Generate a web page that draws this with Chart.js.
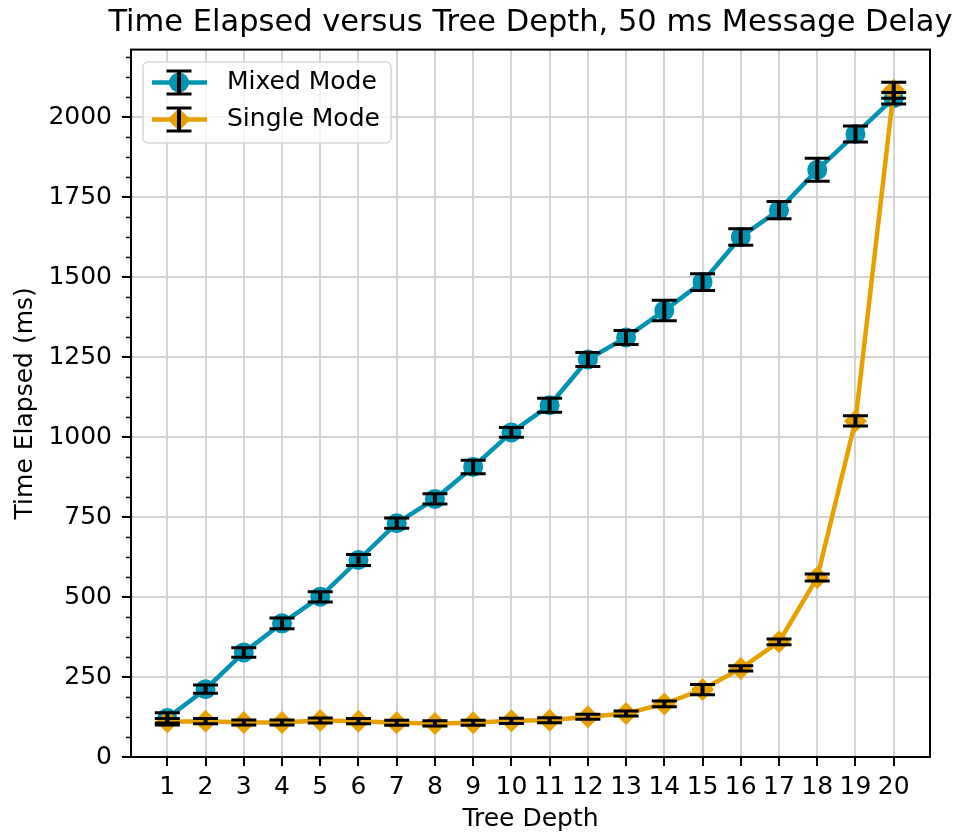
<!DOCTYPE html>
<html>
<head>
<meta charset="utf-8">
<script src="https://cdn.jsdelivr.net/npm/chart.js@4.4.1/dist/chart.umd.min.js"></script>
<style>
  html, body { margin: 0; padding: 0; background: #fff; }
  #wrap { width: 961px; height: 840px; }
</style>
</head>
<body>
<div id="wrap"><canvas id="chart" width="961" height="840"></canvas></div>
<script>
// depths on the x axis
var depths = [1, 2, 3, 4, 5, 6, 7, 8, 9, 10, 11, 12, 13, 14, 15, 16, 17, 18, 19, 20];

// Mixed Mode: mean time (ms) and error (+/-)
var mixedTime = [122, 212, 327, 418, 501, 616, 731, 807, 907, 1015, 1100, 1243, 1312, 1396, 1485, 1626, 1710, 1836, 1948, 2060];
var mixedErr = [16, 13, 15, 17, 16, 17, 16, 16, 21, 15, 22, 22, 22, 32, 26, 26, 27, 36, 25, 18];

// Single Mode
var singleTime = [110, 112, 108, 108, 114, 112, 107, 105, 107, 113, 115, 126, 136, 166, 211, 277, 360, 561, 1051, 2085];
var singleErr = [10, 8, 8, 8, 8, 8, 8, 8, 8, 8, 8, 8, 8, 9, 16, 8, 9, 11, 16, 25];

var yTicks = [0, 250, 500, 750, 1000, 1250, 1500, 1750, 2000];
var yMinorStep = 62.5;

var blue = "#0093b2";
var orange = "#e6a100";
var font = "DejaVu Sans";

function points(ys) {
    return depths.map(function (d, i) { return { x: d, y: ys[i] }; });
}

// black error bars with caps, drawn over the markers
var errorBars = {
    id: "errorBars",
    afterDatasetsDraw: function (chart) {
        var ctx = chart.ctx, xs = chart.scales.x, ys = chart.scales.y;
        ctx.save();
        ctx.strokeStyle = "#000";
        chart.data.datasets.forEach(function (ds) {
            ds.data.forEach(function (p, i) {
                var e = ds.errors[i];
                var x = xs.getPixelForValue(p.x);
                var top = ys.getPixelForValue(p.y + e);
                var bot = ys.getPixelForValue(p.y - e);
                ctx.lineWidth = 4;
                ctx.beginPath();
                ctx.moveTo(x, top);
                ctx.lineTo(x, bot);
                ctx.stroke();
                ctx.lineWidth = 3;
                ctx.beginPath();
                ctx.moveTo(x - 12.5, top); ctx.lineTo(x + 12.5, top);
                ctx.moveTo(x - 12.5, bot); ctx.lineTo(x + 12.5, bot);
                ctx.stroke();
            });
        });
        ctx.restore();
    }
};

// title centred over the plot but wider than it
var titleSpan = {
    id: "titleSpan",
    afterLayout: function (chart) {
        var t = chart.titleBlock, a = chart.chartArea;
        var mid = (a.left + a.right) / 2, half = 450;
        t.left = mid - half;
        t.right = mid + half;
        t.width = 2 * half;
    }
};

// spines, minor ticks and the legend box (matplotlib look)
var frame = {
    id: "frame",
    afterDraw: function (chart) {
        var ctx = chart.ctx, a = chart.chartArea, ys = chart.scales.y;
        ctx.save();
        ctx.strokeStyle = "#000";
        ctx.lineWidth = 2;
        ctx.strokeRect(a.left, a.top, a.right - a.left, a.bottom - a.top);

        // minor ticks on the y axis
        ctx.lineWidth = 1.5;
        ctx.beginPath();
        for (var v = 0; v <= ys.max; v += yMinorStep) {
            if (v % 250 === 0) continue;
            var py = Math.round(ys.getPixelForValue(v)) + 0.5;
            ctx.moveTo(a.left, py);
            ctx.lineTo(a.left - 5, py);
        }
        ctx.stroke();

        // legend
        var bx = 143, by = 62, bw = 248, bh = 81, r = 5;
        ctx.beginPath();
        ctx.moveTo(bx + r, by);
        ctx.arcTo(bx + bw, by, bx + bw, by + bh, r);
        ctx.arcTo(bx + bw, by + bh, bx, by + bh, r);
        ctx.arcTo(bx, by + bh, bx, by, r);
        ctx.arcTo(bx, by, bx + bw, by, r);
        ctx.closePath();
        ctx.fillStyle = "rgba(255,255,255,0.8)";
        ctx.fill();
        ctx.strokeStyle = "#d6d6d6";
        ctx.lineWidth = 1.5;
        ctx.stroke();

        var rows = [82.5, 119.5];
        chart.data.datasets.forEach(function (ds, k) {
            var y = rows[k], cx = 179;
            ctx.strokeStyle = ds.borderColor;
            ctx.lineWidth = 4.5;
            ctx.beginPath();
            ctx.moveTo(152, y);
            ctx.lineTo(207, y);
            ctx.stroke();
            ctx.fillStyle = ds.borderColor;
            ctx.beginPath();
            if (ds.pointStyle === "circle") {
                ctx.arc(cx, y, 10, 0, Math.PI * 2);
            } else {
                ctx.moveTo(cx - 11.5, y);
                ctx.lineTo(cx, y - 11.5);
                ctx.lineTo(cx + 11.5, y);
                ctx.lineTo(cx, y + 11.5);
                ctx.closePath();
            }
            ctx.fill();
            ctx.strokeStyle = "#000";
            ctx.lineWidth = 4;
            ctx.beginPath();
            ctx.moveTo(cx, y - 11.5);
            ctx.lineTo(cx, y + 11.5);
            ctx.stroke();
            ctx.lineWidth = 3;
            ctx.beginPath();
            ctx.moveTo(cx - 12.5, y - 11.5); ctx.lineTo(cx + 12.5, y - 11.5);
            ctx.moveTo(cx - 12.5, y + 11.5); ctx.lineTo(cx + 12.5, y + 11.5);
            ctx.stroke();
            ctx.fillStyle = "#000";
            ctx.font = "25px '" + font + "'";
            ctx.textBaseline = "middle";
            ctx.textAlign = "left";
            ctx.fillText(ds.label, 227, y);
        });
        ctx.restore();
    }
};

Chart.defaults.font.family = font;
Chart.defaults.color = "#000";

var ctx = document.getElementById("chart").getContext("2d");
var chart = new Chart(ctx, {
    type: "line",
    data: {
        datasets: [
            {
                label: "Mixed Mode",
                data: points(mixedTime),
                errors: mixedErr,
                borderColor: blue,
                backgroundColor: blue,
                borderWidth: 4.5,
                pointStyle: "circle",
                pointRadius: 10,
                pointBorderWidth: 0,
                pointHoverRadius: 10,
                order: 1
            },
            {
                label: "Single Mode",
                data: points(singleTime),
                errors: singleErr,
                borderColor: orange,
                backgroundColor: orange,
                borderWidth: 4.5,
                pointStyle: "rectRot",
                pointRadius: 11.5,
                pointBorderWidth: 0,
                pointHoverRadius: 11.5,
                order: 0
            }
        ]
    },
    options: {
        responsive: false,
        animation: false,
        layout: { padding: { left: 0, right: 31, top: 0, bottom: 0 } },
        plugins: {
            legend: { display: false },
            tooltip: { enabled: false },
            title: {
                display: true,
                fullSize: false,
                text: "Time Elapsed versus Tree Depth, 50 ms Message Delay",
                font: { size: 30.5, weight: "normal" },
                color: "#000",
                padding: { top: 5, bottom: 8 }
            }
        },
        scales: {
            x: {
                type: "linear",
                min: 0.05,
                max: 20.95,
                afterBuildTicks: function (scale) {
                    scale.ticks = depths.map(function (d) { return { value: d }; });
                },
                afterFit: function (scale) { scale.height = 83; },
                ticks: {
                    font: { size: 25 },
                    color: "#000",
                    padding: 6,
                    maxRotation: 0,
                    autoSkip: false,
                    callback: function (v) { return String(v); }
                },
                grid: { color: "#d3d3d3", lineWidth: 2, tickColor: "#000", tickLength: 9, tickWidth: 2 },
                border: { display: false },
                title: { display: true, text: "Tree Depth", font: { size: 25 }, color: "#000", padding: { top: 0, bottom: 6 } }
            },
            y: {
                type: "linear",
                min: 0,
                max: 2212,
                afterBuildTicks: function (scale) {
                    scale.ticks = yTicks.map(function (v) { return { value: v }; });
                },
                afterFit: function (scale) { scale.width = 131; },
                ticks: {
                    font: { size: 25 },
                    color: "#000",
                    padding: 10,
                    callback: function (v) { return String(v); }
                },
                grid: { color: "#d3d3d3", lineWidth: 2, tickColor: "#000", tickLength: 9, tickWidth: 2 },
                border: { display: false },
                title: { display: true, text: "Time Elapsed (ms)", font: { size: 25 }, color: "#000", padding: { top: 10, bottom: 0 } }
            }
        }
    },
    plugins: [titleSpan, errorBars, frame]
});
</script>
</body>
</html>
